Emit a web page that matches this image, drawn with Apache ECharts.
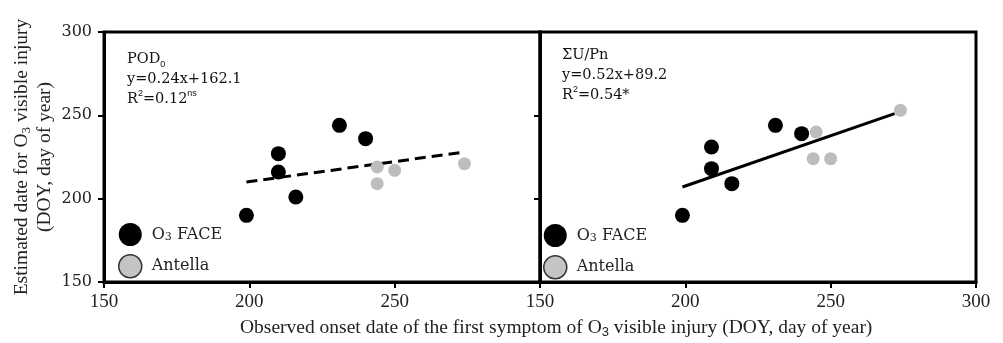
<!DOCTYPE html>
<html>
<head>
<meta charset="utf-8">
<script src="https://cdn.jsdelivr.net/npm/echarts@6/dist/echarts.min.js"></script>
<style>
html, body { margin: 0; padding: 0; background: #fff; }
#main { width: 1003px; height: 343px; }
</style>
</head>
<body>
<div id="main"></div>
<script>
var dom = document.getElementById('main');
var myChart = echarts.init(dom);

// left panel (POD0)
var faceX1 = [199, 210, 210, 216, 231, 240];
var faceY1 = [190, 227, 216, 201, 244, 236];
var antX1 = [244, 244, 250, 274];
var antY1 = [219, 209, 217, 221];
var fitX1 = [199, 274];
var fitY1 = [210, 228];

// right panel (SumU/Pn)
var faceX2 = [199, 209, 209, 216, 231, 240];
var faceY2 = [190, 231, 218, 209, 244, 239];
var antX2 = [245, 244, 250, 274];
var antY2 = [240, 224, 224, 253];
var fitX2 = [199, 272];
var fitY2 = [207, 251];

var seriesNames = ['O3 FACE', 'Antella'];

function zip(xs, ys) {
	return xs.map(function(x, i) {
		return [x, ys[i]];
	});
}

var serif = 'DejaVu Serif';
var times = 'Liberation Serif';
var grey = '#bdbdbd';

function xAxisOf(idx, hide300) {
	return {
		gridIndex: idx,
		type: 'value',
		min: 150,
		max: 300,
		interval: 50,
		splitLine: { show: false },
		axisLine: { lineStyle: { color: '#000', width: 3 } },
		axisTick: { length: 6, lineStyle: { color: '#000', width: 2 } },
		axisLabel: {
			margin: 11,
			color: '#222',
			fontFamily: times,
			fontSize: 19,
			formatter: function(v) {
				if (hide300 && v === 300) return '';
				return v;
			}
		}
	};
}

function yAxisOf(idx, showLabel) {
	var ax = {
		gridIndex: idx,
		type: 'value',
		min: 150,
		max: 300,
		interval: 50,
		splitLine: { show: false },
		axisLine: { lineStyle: { color: '#000', width: 3 } },
		axisTick: { length: 6, lineStyle: { color: '#000', width: 2 } },
		axisLabel: {
			show: showLabel,
			margin: 12,
			color: '#222',
			fontFamily: serif,
			fontSize: 16
		}
	};
	if (showLabel) {
		ax.name = 'Estimated date for O{sub|3} visible injury\n(DOY, day of year)';
		ax.nameLocation = 'middle';
		ax.nameGap = 48;
		ax.nameTextStyle = {
			color: '#222',
			fontFamily: times,
			fontSize: 19.5,
			lineHeight: 23,
			rich: {
				sub: { fontFamily: times, fontSize: 13, verticalAlign: 'bottom', lineHeight: 23 }
			}
		};
	}
	return ax;
}

function legendOf(left, top) {
	return {
		orient: 'vertical',
		left: left,
		top: top,
		icon: 'circle',
		itemWidth: 23,
		itemHeight: 23,
		itemGap: 8,
		selectedMode: false,
		textStyle: {
			color: '#222',
			fontFamily: serif,
			fontSize: 16,
			padding: [0, 0, 0, 5],
			rich: {
				sub: { fontFamily: serif, fontSize: 11, verticalAlign: 'bottom' }
			}
		},
		formatter: function(name) {
			if (name === 'O3 FACE') return 'O{sub|3} FACE';
			return name;
		},
		data: [
			{ name: seriesNames[0], itemStyle: { color: '#000' } },
			{ name: seriesNames[1], itemStyle: { color: '#c4c4c4', borderColor: '#333', borderWidth: 1.5 } }
		]
	};
}

function annot(x, y, lines) {
	return {
		type: 'text',
		left: x,
		top: y,
		z: 100,
		style: {
			text: lines,
			fill: '#111',
			font: '14.5px "' + serif + '"',
			lineHeight: 20,
			rich: {
				sub: { fontSize: 9, verticalAlign: 'bottom', lineHeight: 20, fill: '#111' },
				sup: { fontSize: 9, verticalAlign: 'top', lineHeight: 20, fill: '#111' }
			}
		}
	};
}

var option = {
	backgroundColor: '#fff',
	animation: false,
	grid: [
		{ left: 104, top: 32, width: 436, height: 250, show: true, borderColor: '#000', borderWidth: 3, backgroundColor: '#fff' },
		{ left: 540, top: 32, width: 436, height: 250, show: true, borderColor: '#000', borderWidth: 3, backgroundColor: '#fff' }
	],
	xAxis: [xAxisOf(0, true), xAxisOf(1, false)],
	yAxis: [yAxisOf(0, true), yAxisOf(1, false)],
	legend: [legendOf(113, 218), legendOf(538, 219)],
	graphic: [
		annot(127, 49, 'POD{sub|0}\ny=0.24x+162.1\nR{sup|2}=0.12{sup|ns}'),
		annot(562, 45, 'ΣU/Pn\ny=0.52x+89.2\nR{sup|2}=0.54*'),
		{
			type: 'text',
			left: 240,
			top: 317,
			style: {
				text: 'Observed onset date of the first symptom of O{sub|3} visible injury (DOY, day of year)',
				fill: '#222',
				font: '19.5px "' + times + '"',
				lineHeight: 22,
				rich: {
					sub: { fontSize: 13, verticalAlign: 'bottom', lineHeight: 22, fill: '#222' }
				}
			}
		}
	],
	series: [
		{
			type: 'line',
			xAxisIndex: 0,
			yAxisIndex: 0,
			data: zip(fitX1, fitY1),
			showSymbol: false,
			lineStyle: { color: '#000', width: 3, type: [11, 6] },
			z: 1
		},
		{
			type: 'line',
			xAxisIndex: 1,
			yAxisIndex: 1,
			data: zip(fitX2, fitY2),
			showSymbol: false,
			lineStyle: { color: '#000', width: 3 },
			z: 1
		},
		{
			name: seriesNames[0],
			type: 'scatter',
			xAxisIndex: 0,
			yAxisIndex: 0,
			symbolSize: 15,
			itemStyle: { color: '#000', opacity: 1 },
			data: zip(faceX1, faceY1),
			z: 3
		},
		{
			name: seriesNames[1],
			type: 'scatter',
			xAxisIndex: 0,
			yAxisIndex: 0,
			symbolSize: 13,
			itemStyle: { color: grey, opacity: 1 },
			data: zip(antX1, antY1),
			z: 2
		},
		{
			name: seriesNames[0],
			type: 'scatter',
			xAxisIndex: 1,
			yAxisIndex: 1,
			symbolSize: 15,
			itemStyle: { color: '#000', opacity: 1 },
			data: zip(faceX2, faceY2),
			z: 3
		},
		{
			name: seriesNames[1],
			type: 'scatter',
			xAxisIndex: 1,
			yAxisIndex: 1,
			symbolSize: 13,
			itemStyle: { color: grey, opacity: 1 },
			data: zip(antX2, antY2),
			z: 2
		}
	]
};

if (option && typeof option === 'object') {
	myChart.setOption(option, true);
}
</script>
</body>
</html>
